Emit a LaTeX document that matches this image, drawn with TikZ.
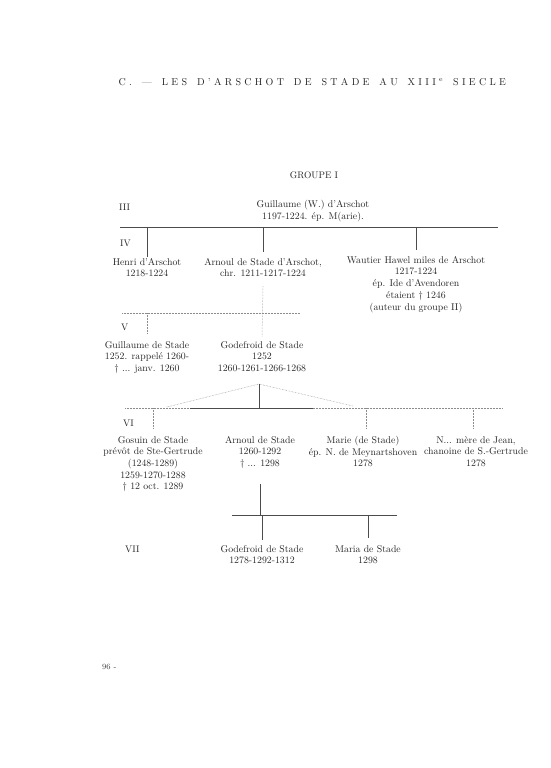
\documentclass[tikz,border=0pt]{standalone}
\usepackage{fontspec}
\usetikzlibrary{positioning,calc}

% letter-spaced title
\newcommand\supe{\textsuperscript{e}}
\newcommand\lspaced[1]{\lsloop#1\relax}
\def\lsloop#1{\ifx#1\relax\else#1\hspace{3.3pt}\expandafter\lsloop\fi}

\tikzset{
  person/.style={anchor=north, align=center, inner sep=0pt, text=black!85,
    font=\fontsize{9.8}{11.7}\selectfont},
  gen/.style={anchor=west, inner sep=0pt, text=black!85,
    font=\fontsize{9.5}{11.7}\selectfont},
  link/.style={draw=black!70, line width=0.7pt},
  dotlink/.style={draw=black!45, densely dotted, line width=0.5pt},
}

\begin{document}
\begin{tikzpicture}[x=1pt,y=-1pt]
\useasboundingbox[fill=white] (0,0) rectangle (551,768);

% headings
\node[inner sep=0pt, text=black!85, font=\fontsize{10}{12}\selectfont] (title) at (314,82)
  {\lspaced{C.~\textemdash~LES~D'ARSCHOT~DE~STADE~AU~XIII\supe~SIECLE}\hspace{-3.3pt}};
\node[inner sep=0pt, text=black!85, font=\fontsize{9.5}{11}\selectfont] (groupe) at (314,175) {GROUPE I};

% generations
\node[gen] (g3) at (119,207) {III};
\node[gen] (g4) at (120,243) {IV};
\node[gen] (g5) at (121,327) {V};
\node[gen] (g6) at (123,423) {VI};
\node[gen] (g7) at (125,549) {VII};

% persons
\node[person] (guillaume) at (313,200) {Guillaume (W.) d'Arschot\\1197-1224. ép. M(arie).};

\node[person] (henri) at (147,258) {Henri d'Arschot\\1218-1224};
\node[person] (arnoul) at (263,258) {Arnoul de Stade d'Arschot,\\chr. 1211-1217-1224};
\node[person] (wautier) at (416,256) {Wautier Hawel miles de Arschot\\1217-1224\\ép. Ide d'Avendoren\\étaient † 1246\\(auteur du groupe II)};

\node[person] (guillaumes) at (147,341) {Guillaume de Stade\\1252. rappelé 1260-\\† ... janv. 1260};
\node[person] (godefroid) at (262,341) {Godefroid de Stade\\1252\\1260-1261-1266-1268};

\node[person] (gosuin) at (153,436) {Gosuin de Stade\\prévôt de Ste-Gertrude\\(1248-1289)\\1259-1270-1288\\† 12 oct. 1289};
\node[person] (arnouls) at (260,436) {Arnoul de Stade\\1260-1292\\† ... 1298};
\node[person] (marie) at (363,436) {Marie (de Stade)\\ép. N. de Meynartshoven\\1278};
\node[person] (njean) at (476,436) {N... mère de Jean,\\chanoine de S.-Gertrude\\1278};

\node[person] (godefroids) at (262,545) {Godefroid de Stade\\1278-1292-1312};
\node[person] (maria) at (368,545) {Maria de Stade\\1298};

\node[inner sep=0pt, anchor=west, text=black!75, font=\fontsize{8}{10}\selectfont] (page) at (102,667) {96 -};

% generation III -> IV
\coordinate (bar1w) at (120,227);
\coordinate (bar1e) at (498,227);
\draw[link] (bar1w) -- (bar1e);
\draw[link] (bar1w -| henri.north) -- ([yshift=1pt]henri.north);
\draw[link] (bar1w -| arnoul.north) -- ([yshift=6pt]arnoul.north);
\draw[link] (bar1w -| wautier.north) -- ([yshift=6pt]wautier.north);

% generation IV -> V
\coordinate (bar2w) at (122,313);
\coordinate (bar2e) at (300,313);
\draw[dotlink] (bar2w) -- (bar2e);
\draw[dotlink] ([yshift=-9pt]arnoul.south) -- ([yshift=4pt]godefroid.north);
\draw[dotlink] (bar2w -| guillaumes.north) -- ([yshift=8pt]guillaumes.north);

% generation V -> VI
\coordinate (apex) at (259,384);
\coordinate (slantl) at (167,407);
\coordinate (slantr) at (353,406);
\coordinate (bar3w) at (125,408);
\coordinate (bar3e) at (502,408);
\coordinate (solidw) at (190,408);
\coordinate (solide) at (313,408);
\draw[dotlink] (bar3w) -- (bar3e);
\draw[link, line width=1pt] (solidw) -- (solide);
\draw[dotlink] (slantl) -- (apex) -- (slantr);
\draw[link] (apex) -- (apex |- bar3w);
\draw[dotlink] (bar3w -| gosuin.north) -- ([yshift=8pt]gosuin.north);
\draw[dotlink] ([xshift=3pt]bar3w -| marie.north) -- ([xshift=3pt,yshift=8pt]marie.north);
\draw[dotlink] ([xshift=-3pt]bar3w -| njean.north) -- ([xshift=-3pt,yshift=8pt]njean.north);

% generation VI -> VII
\coordinate (bar4w) at (232,515);
\coordinate (bar4e) at (397,515);
\draw[link] ([yshift=-15pt]arnouls.south) -- (arnouls.south |- bar4w);
\draw[link] (bar4w) -- (bar4e);
\draw[link] (bar4w -| godefroids.north) -- ([yshift=5pt]godefroids.north);
\draw[link] (bar4w -| maria.north) -- ([yshift=7pt]maria.north);

\end{tikzpicture}
\end{document}
